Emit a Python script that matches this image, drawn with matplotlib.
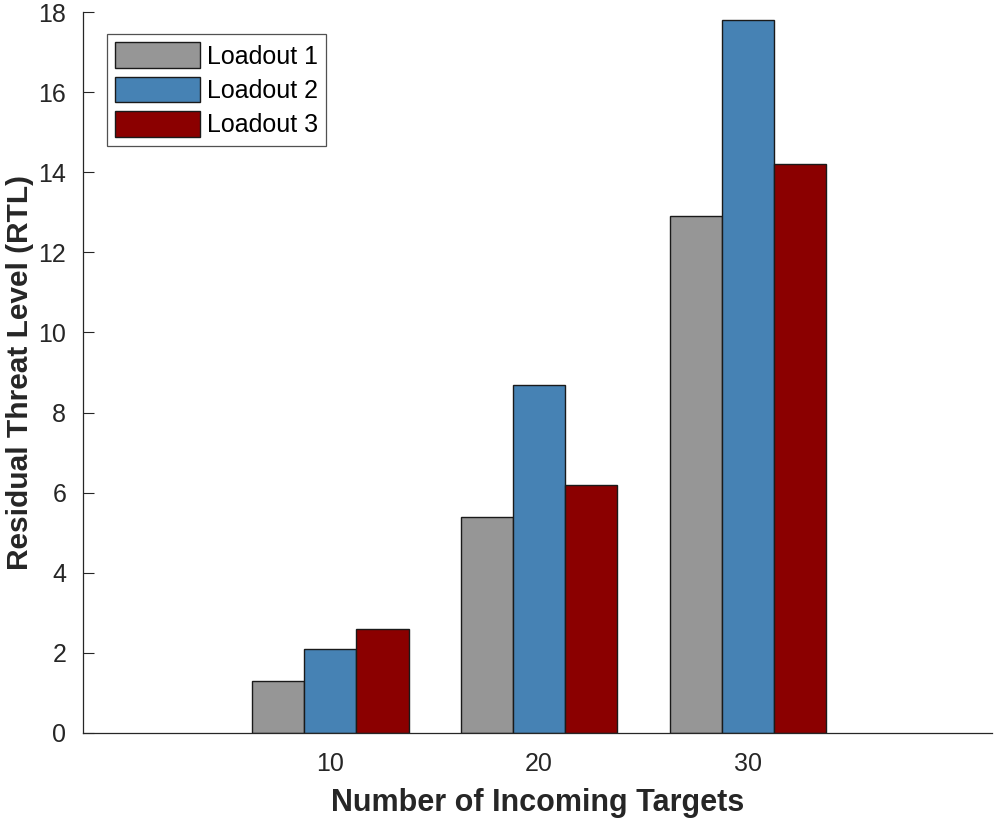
import numpy as np
import matplotlib.pyplot as plt

plt.rcParams['font.family'] = ['Liberation Sans', 'DejaVu Sans']

targets = ['10', '20', '30']
loadout1 = [1.3, 5.4, 12.9]
loadout2 = [2.1, 8.7, 17.8]
loadout3 = [2.6, 6.2, 14.2]
series_names = ['Loadout 1', 'Loadout 2', 'Loadout 3']
colors = ['#969696', '#4682b4', '#8b0000']

fig = plt.figure(figsize=(9.96, 8.22), dpi=100)
ax = fig.add_axes([0.0833, 0.1083, 0.9127, 0.8771])

x = np.arange(1, len(targets) + 1)
width = 0.25
for i, (vals, name, c) in enumerate(zip([loadout1, loadout2, loadout3], series_names, colors)):
    ax.bar(x + (i - 1) * width, vals, width, color=c, edgecolor='#1a1a1a',
           linewidth=1.0, label=name)

ax.set_xlim(-0.185, 4.17)
ax.set_ylim(0, 18)
ax.set_xticks(x)
ax.set_xticklabels(targets)
ax.set_yticks(np.arange(0, 19, 2))
ax.tick_params(axis='both', direction='in', labelsize=18, colors='#262626',
               length=8, width=0.8)
ax.tick_params(axis='x', length=0, pad=14)
ax.tick_params(axis='y', pad=12)
for s in ['top', 'right']:
    ax.spines[s].set_visible(False)
for s in ['left', 'bottom']:
    ax.spines[s].set_color('#262626')
    ax.spines[s].set_linewidth(0.9)

ax.set_xlabel('Number of Incoming Targets', fontsize=22, fontweight='bold',
              color='#262626', labelpad=8)
ax.set_ylabel('Residual Threat Level (RTL)', fontsize=21.5, fontweight='bold',
              color='#262626', labelpad=3)

leg = ax.legend(loc='upper left', bbox_to_anchor=(0.026, 0.97), fontsize=18,
                frameon=True, fancybox=False, edgecolor='#262626',
                handlelength=3.4, handleheight=1.2, handletextpad=0.25,
                labelspacing=0.32, borderpad=0.35, borderaxespad=0)
leg.get_frame().set_linewidth(0.9)

plt.savefig('out.png', dpi=100)
plt.close()
